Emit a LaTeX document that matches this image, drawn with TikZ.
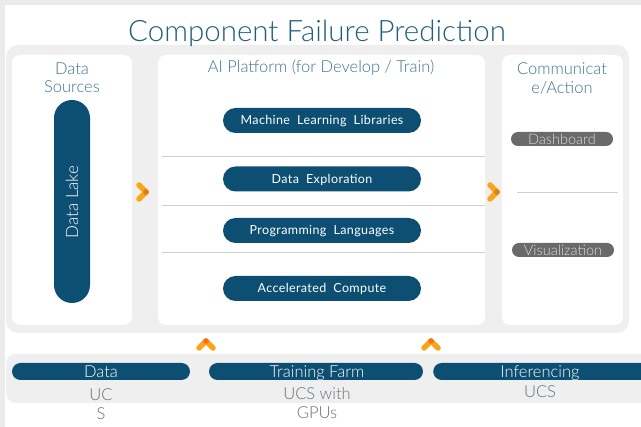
\documentclass[tikz,border=0pt]{standalone}
\usepackage{fontspec}
\setmainfont{Lato}
\newfontfamily\lightfont{Lato Light}
\newfontfamily\pillfont{Lato}[LetterSpace=3]
\usetikzlibrary{calc}
\definecolor{canvasgrey}{HTML}{EBEBEB}
\definecolor{panelgrey}{HTML}{EFEFEF}
\definecolor{pillblue}{HTML}{0D4F73}
\definecolor{titleteal}{HTML}{235E7C}
\definecolor{headteal}{HTML}{3E7491}
\definecolor{pillgrey}{HTML}{6A6A6A}
\definecolor{chev}{HTML}{F9A51A}
\definecolor{chevdot}{HTML}{EE7418}
\definecolor{subgrey}{HTML}{66717C}
\definecolor{linegrey}{HTML}{CFCFCF}
\tikzset{
  header/.style={text=headteal, font=\lightfont\fontsize{16.5}{18.5}\selectfont, align=center, inner sep=0pt},
  bluepill/.style={fill=pillblue, rounded corners=12.5pt, minimum width=198pt, minimum height=25pt, text=white, font=\pillfont\fontsize{12.5}{14}\selectfont, inner sep=0pt, text height=9pt, text depth=0pt},
  greypill/.style={fill=pillgrey, rounded corners=7pt, minimum width=102pt, minimum height=14pt, text=white!86!black, font=\lightfont\fontsize{14.5}{14}\selectfont, inner sep=0pt, text height=10.5pt, text depth=0pt},
  barpill/.style={fill=pillblue, rounded corners=8.5pt, minimum height=17pt, inner sep=0pt},
  bartext/.style={text=white, font=\lightfont\fontsize{16.5}{16}\selectfont, inner sep=0pt, text height=12pt, text depth=0pt},
  subtext/.style={text=subgrey, font=\lightfont\fontsize{16.5}{19}\selectfont, align=center, inner sep=0pt},
  chevron/.style={draw=chev, line width=5.5pt, line cap=round, line join=round},
  sepline/.style={draw=linegrey, line width=0.8pt}
}
\begin{document}
\begin{tikzpicture}[x=1pt,y=-1pt]
\useasboundingbox (0,0) rectangle (641,427);
\fill[canvasgrey] (0,0) rectangle (641,427);
\fill[white] (5,5) rectangle (641,427);
% main panel
\fill[panelgrey, rounded corners=12pt] (6,45) rectangle (629,333);
\fill[white, rounded corners=8pt] (12,55) rectangle (132,325);
\fill[white, rounded corners=8pt] (158,55) rectangle (485,325);
\fill[white, rounded corners=8pt] (502,55) rectangle (623,325);
% title
\node[text=titleteal, font=\lightfont\fontsize{29.5}{32}\selectfont, inner sep=0pt] (title) at (317,33) {Component Failure Prediction};
% left column
\node[header] (dshead) at (72,77.5) {Data\\Sources};
\node[fill=pillblue, rounded corners=18pt, minimum width=36pt, minimum height=203pt, inner sep=0pt] (lake) at (72,201.5) {};
\node[rotate=90, text=white, font=\lightfont\fontsize{17}{17}\selectfont, inner sep=0pt] (laketext) at (72,202) {Data Lake};
% middle column
\node[header] (aihead) at (321,68) {AI Platform (for Develop / Train)};
\node[bluepill] (ml) at (322,120.5) {Machine\ \ Learning\ \ Libraries};
\node[bluepill] (de) at (322,179) {Data\ \ Exploration};
\node[bluepill] (pl) at (322,230.5) {Programming\ \ Languages};
\node[bluepill] (ac) at (322,288.5) {Accelerated\ \ Compute};
\coordinate (s1a) at (162,156); \coordinate (s1b) at (485,156);
\coordinate (s2a) at (162,205); \coordinate (s2b) at (485,205);
\coordinate (s3a) at (162,252); \coordinate (s3b) at (485,252);
\draw[sepline] (s1a) -- (s1b);
\draw[sepline] (s2a) -- (s2b);
\draw[sepline] (s3a) -- (s3b);
% right column
\node[header] (cahead) at (562,78.5) {Communicat\\e/Action};
\node[greypill] (dash) at (562,139) {Dashboard};
\node[greypill] (vis) at (563,250) {Visualization};
\coordinate (r1a) at (517,192); \coordinate (r1b) at (618,192);
\draw[sepline] (r1a) -- (r1b);
% chevrons
\coordinate (c1) at (146,192);
\draw[chevron] ($(c1)+(-7,-7)$) -- (c1) -- ($(c1)+(-7,7)$);
\fill[chevdot] (c1) circle (2.8pt);
\coordinate (c2) at (497,192);
\draw[chevron] ($(c2)+(-7,-7)$) -- (c2) -- ($(c2)+(-7,7)$);
\fill[chevdot] (c2) circle (2.8pt);
\coordinate (c3) at (206,341);
\draw[chevron] ($(c3)+(-7,7)$) -- (c3) -- ($(c3)+(7,7)$);
\fill[chevdot] (c3) circle (2.8pt);
\coordinate (c4) at (431,341);
\draw[chevron] ($(c4)+(-7,7)$) -- (c4) -- ($(c4)+(7,7)$);
\fill[chevdot] (c4) circle (2.8pt);
% bottom strip
\fill[panelgrey, rounded corners=10pt] (6,354) rectangle (660,403);
\node[barpill, minimum width=178pt] (bdata) at (101,371.5) {};
\node[barpill, minimum width=214pt] (btrain) at (316,371.5) {};
\node[barpill, minimum width=230pt, anchor=west] (binf) at (433,371.5) {};
\node[bartext] (bdatatext) at (101,372) {Data};
\node[bartext] (btraintext) at (317,372) {Training Farm};
\node[bartext] (binftext) at (540,372) {Inferencing};
\node[subtext] (sdata) at (101,404.5) {UC\\S};
\node[subtext] (strain) at (317,403.5) {UCS with\\GPUs};
\node[subtext] (sinf) at (540,392) {UCS};
\end{tikzpicture}
\end{document}
